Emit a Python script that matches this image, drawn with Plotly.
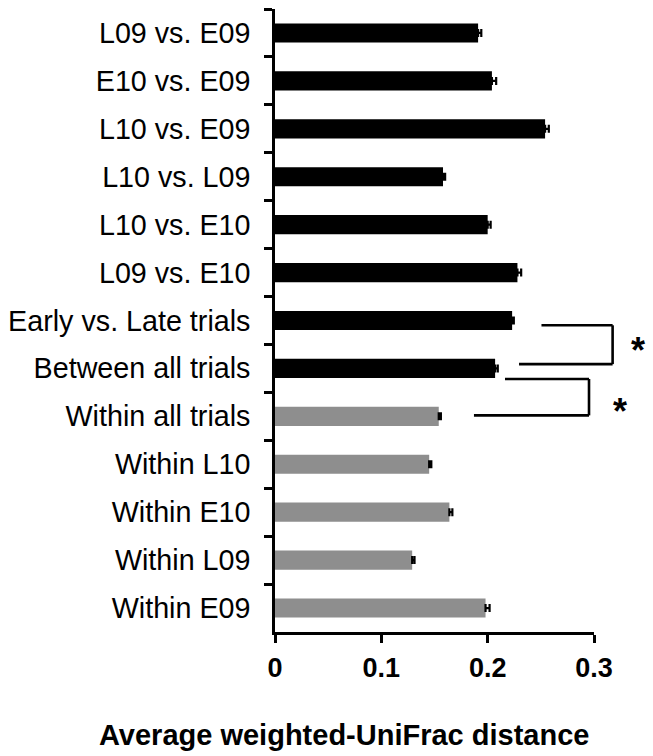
import plotly.graph_objects as go

categories = ["L09 vs. E09", "E10 vs. E09", "L10 vs. E09", "L10 vs. L09",
              "L10 vs. E10", "L09 vs. E10", "Early vs. Late trials",
              "Between all trials", "Within all trials", "Within L10",
              "Within E10", "Within L09", "Within E09"]
values = [0.191, 0.204, 0.254, 0.158, 0.200, 0.228, 0.223, 0.207, 0.154,
          0.145, 0.164, 0.129, 0.198]
errors = [0.003, 0.004, 0.0035, 0.002, 0.0028, 0.0035, 0.0016, 0.0025, 0.002,
          0.002, 0.0028, 0.0022, 0.0038]
groups = ["between"] * 8 + ["within"] * 5
x_ticks = [0, 0.1, 0.2, 0.3]
x_tick_labels = ["0", "0.1", "0.2", "0.3"]
x_max = 0.3

# significance brackets: (x_top_start, x_bottom_start, x_vertical, y_top, y_bottom) in data units / category index
brackets = [(0.2506, 0.2295, 0.3175, 6.10, 6.91),
            (0.2163, 0.1871, 0.2953, 7.22, 7.98)]
stars = [(0.3414, 6.51), (0.3245, 7.77)]

colors = {"between": "#000000", "within": "#8e8e8e"}
FONT = "Liberation Sans, Arial, sans-serif"

fig = go.Figure()
fig.add_trace(go.Bar(
    y=categories, x=values, orientation="h",
    marker=dict(color=[colors[g] for g in groups], line=dict(width=0)),
    error_x=dict(type="data", array=errors, arrayminus=[0] * len(errors),
                 symmetric=False, color="#000000", thickness=2.2, width=4),
    showlegend=False,
))

n = len(categories)

def px(xv):
    return xv / x_max

def py(idx):
    return 1 - (idx + 0.5) / n

shapes = []
for xs_top, xs_bot, xv, yt, yb in brackets:
    line = dict(color="#000000", width=2.6)
    shapes.append(dict(type="line", xref="paper", yref="paper", x0=px(xs_top), x1=px(xv), y0=py(yt), y1=py(yt), line=line))
    shapes.append(dict(type="line", xref="paper", yref="paper", x0=px(xs_bot), x1=px(xv), y0=py(yb), y1=py(yb), line=line))
    shapes.append(dict(type="line", xref="paper", yref="paper", x0=px(xv), x1=px(xv), y0=py(yt), y1=py(yb), line=line))

annotations = []
for sx, sy in stars:
    annotations.append(dict(text="*", xref="paper", yref="paper", x=px(sx), y=py(sy),
                            xanchor="center", yanchor="middle", showarrow=False,
                            yshift=-6, font=dict(family=FONT, size=36, color="#000000", weight="bold")))
annotations.append(dict(text="Average weighted-UniFrac distance", xref="paper", yref="paper",
                        x=0.2156, y=-0.165, xanchor="center", yanchor="middle", showarrow=False,
                        font=dict(family=FONT, size=29, color="#000000", weight="bold")))

fig.update_layout(
    width=653, height=756,
    margin=dict(l=275, r=59, t=9, b=124),
    paper_bgcolor="white", plot_bgcolor="white",
    bargap=0.6,
    font=dict(family=FONT, color="#000000"),
    shapes=shapes, annotations=annotations,
    xaxis=dict(range=[0, x_max], tickvals=x_ticks, ticktext=x_tick_labels,
               showgrid=False, zeroline=False, showline=True, linecolor="#000000", linewidth=2.6,
               ticks="outside", ticklen=8, tickwidth=2.6, tickcolor="#000000",
               tickfont=dict(family=FONT, size=27, color="#000000", weight="bold"),
               ticklabelstandoff=2, fixedrange=True),
    yaxis=dict(categoryorder="array", categoryarray=categories, range=[n - 0.5, -0.5],
               showgrid=False, zeroline=False, showline=True, linecolor="#000000", linewidth=2.6,
               ticks="outside", tickson="boundaries", ticklen=8, tickwidth=2.6, tickcolor="#000000",
               tickfont=dict(family=FONT, size=28.7, color="#000000"),
               ticklabelstandoff=16, fixedrange=True),
)

fig.write_html("out.html", config={"displayModeBar": False},
               post_script="document.body.style.margin='0';document.body.style.padding='0';")
